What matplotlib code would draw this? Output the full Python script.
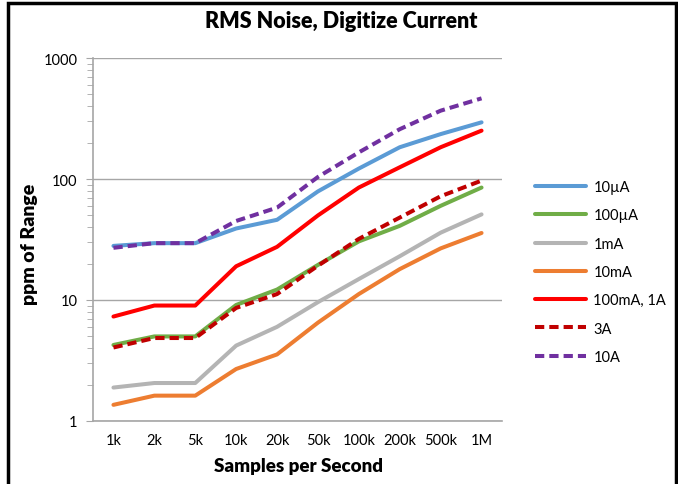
import numpy as np
import matplotlib
matplotlib.use("Agg")
import matplotlib.pyplot as plt
from matplotlib.patches import Rectangle
from matplotlib.ticker import LogLocator, NullFormatter

plt.rcParams['font.family'] = ['Lato', 'DejaVu Sans']

# sample rates (categorical x axis)
rates = ['1k', '2k', '5k', '10k', '20k', '50k', '100k', '200k', '500k', '1M']

# RMS noise in ppm of range
r_10uA = [28, 29.5, 29.5, 39, 46, 79, 122, 183, 235, 294]
r_100uA = [4.25, 5.0, 5.0, 9.1, 12.2, 19.5, 30.5, 41, 60, 85]
r_1mA = [1.89, 2.06, 2.06, 4.2, 6.0, 9.6, 14.9, 23, 36, 51]
r_10mA = [1.36, 1.62, 1.62, 2.69, 3.55, 6.5, 11.2, 18, 26.7, 35.8]
r_100mA = [7.3, 9.0, 9.0, 19, 27.5, 50, 85, 125, 183, 251]
r_3A = [4.05, 4.85, 4.85, 8.6, 11.2, 19.2, 32, 48, 72, 97]
r_10A = [27, 29.5, 29.5, 45, 58, 104, 166, 258, 367, 464]

fig = plt.figure(figsize=(6.78, 4.85), dpi=100)
W, H = 678, 485
ax = fig.add_axes([93 / W, 1 - 422 / H, (502 - 93) / W, (422 - 59) / H])

x = np.arange(len(rates))
solid = [(r_10uA, '10\u00b5A', '#5B9BD5'),
         (r_100uA, '100\u00b5A', '#70AD47'),
         (r_1mA, '1mA', '#B4B4B4'),
         (r_10mA, '10mA', '#ED7D31'),
         (r_100mA, '100mA, 1A', '#FF0000')]
dashed = [(r_3A, '3A', '#C00000'),
          (r_10A, '10A', '#7030A0')]

for vals, lab, col in solid:
    ax.plot(x, vals, color=col, lw=2.9, label=lab, solid_capstyle='round')
for vals, lab, col in dashed:
    ax.plot(x, vals, color=col, lw=2.9, label=lab, dashes=(2.3, 1.25),
            dash_capstyle='butt')

ax.set_yscale('log')
ax.set_ylim(1, 1000)
ax.set_xlim(-0.5, len(rates) - 0.5)
ax.set_xticks(x)
ax.set_xticklabels(rates)
ax.set_yticks([1, 10, 100, 1000])
ax.set_yticklabels(['1', '10', '100', '1000'])
ax.yaxis.set_minor_locator(LogLocator(base=10, subs=np.arange(2, 10)))
ax.yaxis.set_minor_formatter(NullFormatter())
ax.tick_params(axis='x', length=0, labelsize=10.5, pad=9)
ax.tick_params(axis='y', which='major', length=5, color='#A6A6A6', labelsize=10.5, pad=6)
ax.tick_params(axis='y', which='minor', length=4, color='#A6A6A6')
ax.grid(True, axis='y', which='major', color='#A6A6A6', lw=1)
for s in ['top', 'right']:
    ax.spines[s].set_visible(False)
for s in ['left', 'bottom']:
    ax.spines[s].set_color('#A6A6A6')
    ax.spines[s].set_linewidth(1.2)

fig.text(299 / W, 1 - 467 / H, 'Samples per Second', ha='center', va='center',
         fontsize=13.5, fontweight='heavy')
fig.text(30 / W, 1 - 244 / H, 'ppm of Range', ha='center', va='center',
         rotation=90, fontsize=14, fontweight='heavy')
fig.text(341 / W, 1 - 21 / H, 'RMS Noise, Digitize Current', ha='center', va='center',
         fontsize=15.5, fontweight='heavy')

leg = ax.legend(loc='upper left', bbox_to_anchor=(522 / W, 1 - 168 / H),
                bbox_transform=fig.transFigure, frameon=False, fontsize=10.5,
                handlelength=3.5, labelspacing=0.98, handletextpad=0.5)

# black frame around the figure
fig.patches.append(Rectangle((8 / W, -0.05), (676 - 8) / W, 1.05 - 4 / H,
                             transform=fig.transFigure, fill=False,
                             edgecolor='black', lw=2.5))

fig.savefig('out.png', dpi=100)
